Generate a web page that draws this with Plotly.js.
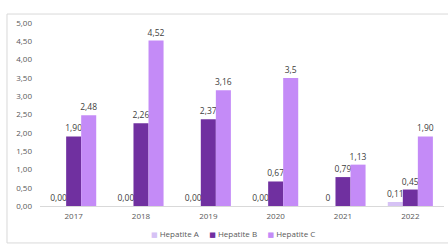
<!DOCTYPE html>
<html><head><meta charset="utf-8">
<script src="https://cdn.plot.ly/plotly-3.0.1.min.js"></script>
<style>body{margin:0;background:#fff}#c{width:448px;height:244px}</style>
</head><body><div id="c"></div>
<script>
const years = ['2017','2018','2019','2020','2021','2022'];
const hepA = [0, 0, 0, 0, 0, 0.11];
const hepB = [1.90, 2.26, 2.37, 0.67, 0.79, 0.45];
const hepC = [2.48, 4.52, 3.16, 3.5, 1.13, 1.90];
const labA = ['0,00','0,00','0,00','0,00','0','0,11'];
const labB = ['1,90','2,26','2,37','0,67','0,79','0,45'];
const labC = ['2,48','4,52','3,16','3,5','1,13','1,90'];
const names = ['Hepatite A','Hepatite B','Hepatite C'];
const colors = ['#d6c2f5','#7030a0','#c48bf7'];
const yTicks = [0,0.5,1,1.5,2,2.5,3,3.5,4,4.5,5];
const yTickText = ['0,00','0,50','1,00','1,50','2,00','2,50','3,00','3,50','4,00','4,50','5,00'];

const fam = 'Open Sans, DejaVu Sans, sans-serif';
function tr(name, y, txt, color){
  return {type:'bar', name:name, x:years, y:y, text:txt, textposition:'outside',
    textangle:0, constraintext:'none',
    textfont:{family:fam, size:8.5, color:'#404040'}, cliponaxis:false,
    marker:{color:color}, hoverinfo:'skip', showlegend:false};
}
const series = [hepA, hepB, hepC];
const labels = [labA, labB, labC];
const data = [];
for (let i=0;i<3;i++) data.push(tr(names[i], series[i], labels[i], colors[i]));

const legendText = names.map((n,i)=>
  `<span style="color:${colors[i]};font-size:7px">■</span> ${n}`).join('&nbsp;&nbsp;&nbsp;&nbsp;&nbsp;');

const layout = {
  width:448, height:244, margin:{l:40, r:4, t:23, b:38},
  paper_bgcolor:'#fff', plot_bgcolor:'#fff', font:{family:fam, size:8, color:'#595959'},
  barmode:'group', bargap:0.33, bargroupgap:0,
  showlegend:false,
  xaxis:{type:'category', showline:true, linecolor:'#d9d9d9', linewidth:1, ticks:'', showgrid:false,
    tickfont:{size:8, color:'#595959'}, ticklabelstandoff:2},
  yaxis:{range:[0,5], tickvals:yTicks, ticktext:yTickText, showgrid:false, zeroline:false,
    showline:false, ticks:'', tickfont:{size:8, color:'#595959'}, ticklabelstandoff:7},
  annotations:[{xref:'paper', yref:'paper', x:0.477, y:-0.148, xanchor:'center', yanchor:'middle',
    text:legendText, showarrow:false, font:{family:fam, size:8, color:'#595959'}}],
  shapes:[{type:'rect', xref:'paper', yref:'paper', x0:-0.0817, x1:1.03, y0:-0.202, y1:1.049,
    line:{color:'#d9d9d9', width:1}, fillcolor:'rgba(0,0,0,0)', layer:'below'}]
};
Plotly.newPlot('c', data, layout, {staticPlot:true, displayModeBar:false});
</script></body></html>
